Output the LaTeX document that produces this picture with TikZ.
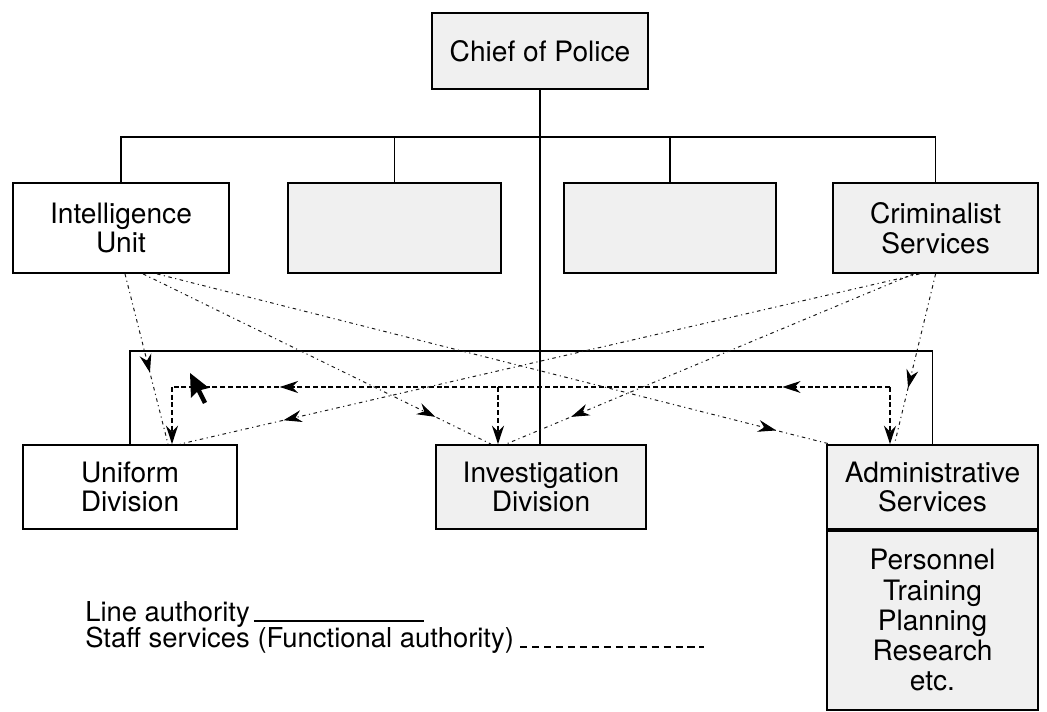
\documentclass[tikz,border=0pt]{standalone}
\usepackage{fontspec}
\setmainfont{TeX Gyre Heros}
\usetikzlibrary{arrows.meta,decorations.markings}

\begin{document}
\begin{tikzpicture}[
	box/.style={line width=1.3pt, draw=black, fill=black!6, inner sep=0pt,
		minimum height=2.25cm, align=center, font=\fontsize{20}{21}\selectfont},
	line/.style={line width=1pt},
	staffline/.style={line width=1pt, dash pattern=on 3.5pt off 2pt},
	staffdot/.style={line width=0.7pt, black!90, dash pattern=on 2.5pt off 2.5pt on 0.8pt off 2.5pt},
	tip/.style={-{Stealth[length=13pt,width=8.5pt]}},
	midarrow/.style={postaction={decorate, decoration={markings,
		mark=at position #1 with {\arrow[black]{Stealth[length=13pt,width=8.5pt]}}}}},
	legend/.style={inner sep=0pt, anchor=base west, font=\fontsize{19.5}{21}\selectfont}
]
	\useasboundingbox (0,0) rectangle (26.175,17.775);

	% Leitung oben
	\node[box, minimum width=5.4cm, minimum height=1.9cm] (chief) at (13.5,16.5) {Chief of Police};

	% zweite Reihe
	\node[box, fill=white, minimum width=5.4cm] (intel) at (3.025,12.075) {Intelligence\\Unit};
	\node[box, minimum width=5.325cm] (blanka) at (9.86,12.075) {};
	\node[box, minimum width=5.3cm] (blankb) at (16.75,12.075) {};
	\node[box, minimum width=5.125cm] (crim) at (23.39,12.075) {Criminalist\\Services};

	% Verteiler
	\coordinate (bus) at (13.5,14.35);
	\draw[line] (intel.north) |- (bus) -| (crim.north);
	\draw[line] (blanka.north) -- (blanka.north |- bus);
	\draw[line] (blankb.north) -- (blankb.north |- bus);

	% dritte Reihe
	\node[box, fill=white, minimum width=5.35cm, minimum height=2.1cm] (uniform) at (3.25,5.6) {Uniform\\Division};
	\node[box, minimum width=5.25cm, minimum height=2.1cm] (invest) at (13.525,5.6) {Investigation\\Division};
	\node[box, minimum width=5.275cm, minimum height=2.1cm] (admin) at (23.3125,5.6) {Administrative\\Services};
	\node[box, minimum width=5.275cm, minimum height=4.475cm, anchor=north,
		font=\fontsize{20}{21.5}\selectfont] (adminlist) at (admin.south) {Personnel\\Training\\Planning\\Research\\etc.};

	% Linienautoritaet
	\coordinate (linetop) at (13.5,9.0);
	\draw[line] (chief.south) -- (chief.south |- invest.north);
	\draw[line] (uniform.north) |- (linetop) -| (admin.north);

	% Stabsdienste waagerecht
	\coordinate (dl) at (4.3,8.1);
	\coordinate (dm) at (12.45,8.1);
	\coordinate (dr) at (22.25,8.1);
	\draw[staffline, midarrow=0.15, midarrow=0.85] (dr) -- (dl);
	\draw[staffline, tip] (dl) -- (dl |- uniform.north);
	\draw[staffline, tip] (dm) -- (dm |- invest.north);
	\draw[staffline, tip] (dr) -- (dr |- admin.north);

	% Stabsdienste schraeg
	\draw[staffdot, midarrow=0.58] ([xshift=0.1cm]intel.south) -- ([xshift=0.95cm]uniform.north);
	\draw[staffdot, midarrow=0.84] ([xshift=0.55cm]intel.south) -- ([xshift=-1.25cm]invest.north);
	\draw[staffdot, midarrow=0.92] ([xshift=0.9cm]intel.south) -- ([xshift=0.1cm]admin.north west);
	\draw[staffdot, midarrow=0.67] (crim.south) -- ([xshift=-0.95cm]admin.north);
	\draw[staffdot, midarrow=0.86] ([xshift=-0.4cm]crim.south) -- ([xshift=1.25cm]uniform.north);
	\draw[staffdot, midarrow=0.84] ([xshift=-0.55cm]crim.south) -- ([xshift=-0.875cm]invest.north);

	% Zeiger
	\fill (4.75,8.45) -- (4.775,7.825) -- (4.925,7.975) -- (5.075,7.675) -- (5.175,7.725)
		-- (5.025,8.025) -- (5.225,8.075) -- cycle;

	% Legende
	\node[legend] (legline) at (2.125,2.25) {Line authority};
	\node[legend] (legstaff) at (2.125,1.6) {Staff services (Functional authority)};
	\draw[line] ([xshift=0.1cm]legline.base east) -- ++(4.25,0);
	\draw[line, dash pattern=on 5pt off 3.5pt] ([xshift=0.15cm]legstaff.base east) -- ++(4.6,0);
\end{tikzpicture}
\end{document}
